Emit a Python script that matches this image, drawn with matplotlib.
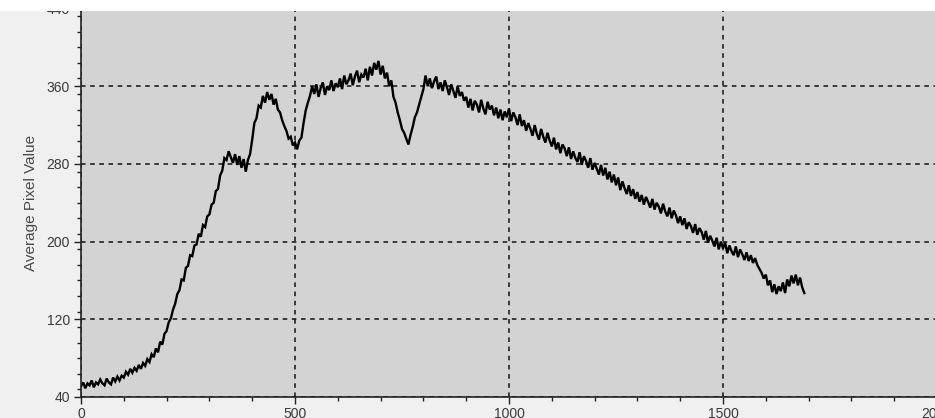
import matplotlib.pyplot as plt
from matplotlib.patches import Rectangle
from matplotlib.ticker import MultipleLocator
import numpy as np

# average pixel value, one value every 5 units
step = 5
values = [
    51, 55, 49, 54, 52, 57, 50, 55, 53, 58, 54, 52, 59, 55, 53, 60, 56, 61, 57, 62,
    60, 66, 63, 69, 65, 70, 67, 73, 69, 75, 72, 79, 76, 84, 81, 90, 86, 97, 94, 105,
    108, 117, 121, 130, 136, 146, 150, 161, 160, 173, 175, 186, 185, 196, 197, 208, 205, 217, 215, 226,
    228, 238, 240, 252, 254, 268, 273, 286, 284, 293, 287, 281, 290, 279, 288, 276, 285, 272, 284, 290,
    305, 322, 327, 340, 338, 350, 343, 354, 346, 352, 341, 347, 336, 333, 325, 319, 314, 306, 308, 299,
    302, 295, 304, 307, 322, 335, 343, 350, 360, 352, 362, 349, 358, 364, 351, 360, 356, 366, 355, 363,
    359, 368, 357, 371, 362, 366, 373, 361, 370, 376, 364, 372, 369, 378, 366, 380, 371, 384, 377, 386,
    372, 381, 368, 374, 360, 366, 349, 343, 333, 325, 316, 312, 306, 300, 310, 318, 328, 333, 341, 349,
    357, 371, 360, 368, 358, 365, 370, 357, 364, 355, 366, 359, 351, 362, 355, 348, 360, 350, 354, 345,
    349, 338, 347, 335, 345, 341, 333, 346, 337, 331, 344, 336, 340, 330, 338, 327, 336, 325, 334, 328,
    337, 324, 333, 328, 320, 331, 319, 325, 314, 322, 316, 309, 320, 311, 305, 316, 308, 302, 312, 304,
    298, 307, 295, 302, 291, 300, 296, 288, 297, 285, 293, 286, 282, 292, 279, 288, 283, 276, 286, 274,
    281, 275, 269, 279, 268, 276, 264, 272, 261, 269, 258, 266, 253, 262, 255, 249, 258, 247, 254, 244,
    251, 241, 248, 238, 246, 241, 235, 244, 233, 240, 236, 229, 239, 231, 226, 235, 224, 232, 227, 219,
    226, 217, 224, 213, 220, 216, 209, 218, 207, 214, 210, 202, 211, 199, 206, 201, 195, 204, 192, 200,
    193, 199, 188, 196, 190, 186, 195, 184, 192, 187, 181, 189, 180, 186, 178, 183, 176, 172, 168, 162,
    166, 155, 160, 148, 156, 146, 154, 149, 158, 147, 161, 154, 165, 157, 166, 155, 163, 153, 147,
]
xs = np.arange(len(values)) * step

x_ticks = [0, 500, 1000, 1500, 2000]
y_ticks = [40, 120, 200, 280, 360, 440]

W, H = 935, 418
fig = plt.figure(figsize=(W / 100, H / 100), dpi=100, facecolor='#f0f0f0')
# plot box in pixels: x=0 at 81, x=2000 at 937; y=40 at 397, y=440 at 8.5
left, right, bottom, top = 81, 937, 397, 8.5
ax = fig.add_axes([left / W, (H - bottom) / H, (right - left) / W, (bottom - top) / H])
ax.set_facecolor('#d3d3d3')

ax.plot(xs, values, color='black', lw=1.7, solid_joinstyle='miter')

ax.set_xlim(0, 2000)
ax.set_ylim(40, 440)
ax.set_xticks(x_ticks)
ax.set_yticks(y_ticks)
ax.xaxis.set_minor_locator(MultipleLocator(100))
ax.yaxis.set_minor_locator(MultipleLocator(16))
ax.grid(True, which='major', color='#111111', linestyle=(0, (3, 3)), lw=1.1)
ax.set_axisbelow(True)

for s in ['top', 'right']:
    ax.spines[s].set_visible(False)
for s in ['left', 'bottom']:
    ax.spines[s].set_color('#222222')
    ax.spines[s].set_linewidth(1.2)

ax.tick_params(which='major', direction='out', length=5, width=1, colors='#222222',
               labelcolor='#3a3a3a', labelsize=10, pad=3)
ax.tick_params(axis='x', which='major', pad=2)
ax.tick_params(which='minor', direction='out', length=3, width=1, colors='#222222')
for lab in ax.get_xticklabels() + ax.get_yticklabels():
    lab.set_fontfamily('Liberation Sans')

ax.set_ylabel('Average Pixel Value', fontsize=11, color='#4a4a4a',
              fontfamily='Liberation Sans', labelpad=6)

# white strip along the top edge of the screenshot
fig.patches.append(Rectangle((0, 1 - 11 / H), 1, 11 / H, transform=fig.transFigure,
                             facecolor='white', edgecolor='none', zorder=10))

fig.savefig('out.png', dpi=100, facecolor=fig.get_facecolor())
